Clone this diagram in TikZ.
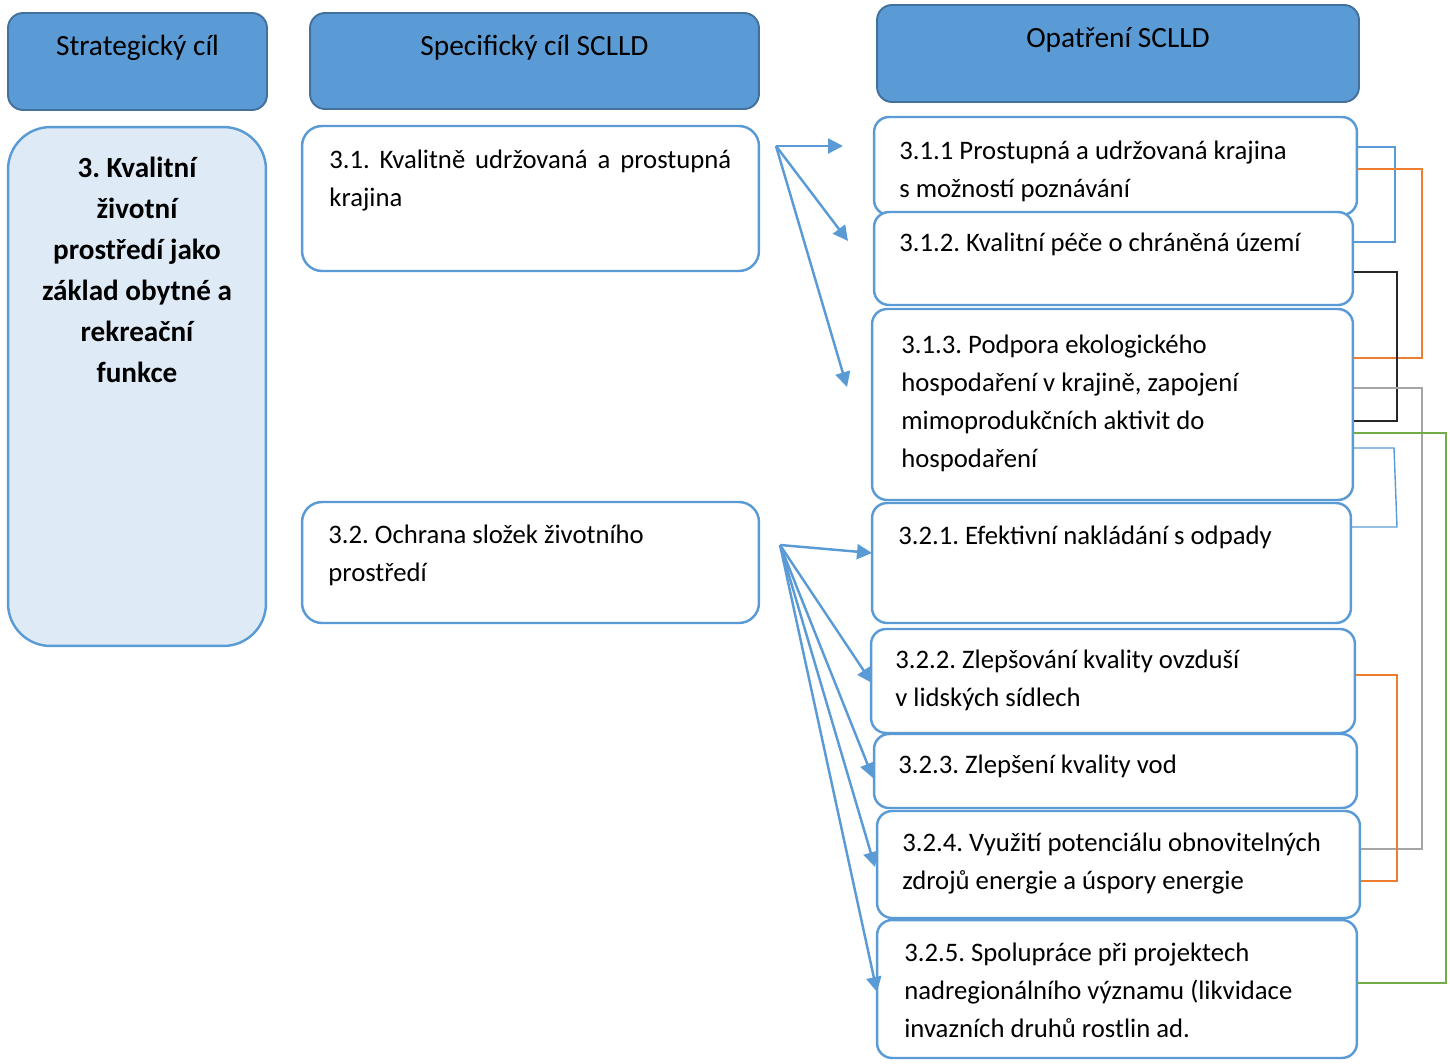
\documentclass[tikz,border=0pt]{standalone}
\usepackage{fontspec}
\setmainfont{Carlito}
\usetikzlibrary{arrows.meta}
\frenchspacing

\definecolor{boxblue}{HTML}{5B9BD5}
\definecolor{headline}{HTML}{41719C}
\definecolor{goalfill}{HTML}{DEEBF7}
\definecolor{linkorange}{HTML}{ED7D31}
\definecolor{linkgray}{HTML}{A5A5A5}
\definecolor{linkgreen}{HTML}{70AD47}
\definecolor{linkdark}{HTML}{262626}

\newcommand\bodyfont{\fontsize{15.2}{21.6}\selectfont}
\newcommand\headfont{\fontsize{16.7}{20}\selectfont}
\newcommand\goalfont{\fontsize{16.6}{23.3}\selectfont\bfseries}

\begin{document}
\frenchspacing
\begin{tikzpicture}[x=0.02cm, y=-0.02cm,
    head/.style={draw=headline, fill=boxblue, line width=1.1pt,
      rounded corners=0.3cm, inner sep=0pt},
    goal/.style={draw=boxblue, fill=goalfill, line width=1.4pt,
      rounded corners=0.85cm, inner sep=0pt},
    spec/.style={draw=boxblue, fill=white, line width=1.4pt,
      rounded corners=0.4cm, inner sep=0pt},
    meas/.style={draw=boxblue, fill=white, line width=1.4pt,
      rounded corners=0.3cm, inner sep=0pt},
    txt/.style={anchor=base west, inner sep=0pt, align=left, font=\bodyfont},
    htxt/.style={anchor=base, inner sep=0pt, font=\headfont},
    arr/.style={draw=boxblue, line width=1.4pt,
      -{Triangle[length=0.3cm, width=0.3cm]}},
    link/.style={line width=0.8pt}]
  \useasboundingbox (0,0) rectangle (1450,1064);

  % column headers
  \node[head, minimum width=5.18cm, minimum height=1.94cm] (h1) at (137.5,61.5) {};
  \node[head, minimum width=8.98cm, minimum height=1.92cm] (h2) at (534.5,61) {};
  \node[head, minimum width=9.64cm, minimum height=1.94cm] (h3) at (1118,53.5) {};
  \node[htxt] (h1t) at (137.5,56) {Strategický cíl};
  \node[htxt] (h2t) at (534.5,56) {Specifický cíl SCLLD};
  \node[htxt] (h3t) at (1118,48) {Opatření SCLLD};

  % strategic goal (base = last line)
  \node[goal, minimum width=5.16cm, minimum height=10.38cm] (g) at (137,386.5) {};
  \node[anchor=base, inner sep=0pt, align=center, font=\goalfont] (gt) at (137,382.5)
    {3. Kvalitní\\ životní\\ prostředí jako\\ základ obytné a\\ rekreační\\ funkce};

  % specific goals
  \node[spec, minimum width=9.14cm, minimum height=2.9cm] (s1) at (530.5,198.5) {};
  \node[spec, minimum width=9.14cm, minimum height=2.42cm] (s2) at (530.5,562.5) {};
  \node[txt, text width=8.04cm, align=justify] (s1t) at (329,169)
    {3.1. Kvalitně udržovaná a prostupná\linebreak krajina};
  \node[txt] (s2t) at (328,581.6) {3.2. Ochrana složek životního\\ prostředí};

  % measures
  \node[meas, minimum width=9.66cm, minimum height=1.96cm] (m1) at (1115.5,166) {};
  \node[meas, minimum width=9.58cm, minimum height=1.86cm] (m2) at (1113.5,258.5) {};
  \node[meas, minimum width=9.62cm, minimum height=3.82cm] (m3) at (1112.5,404.5) {};
  \node[meas, minimum width=9.58cm, minimum height=2.4cm] (m4) at (1111.5,563) {};
  \node[meas, minimum width=9.68cm, minimum height=2.08cm] (m5) at (1113,681) {};
  \node[meas, minimum width=9.66cm, minimum height=1.48cm] (m6) at (1115.5,771) {};
  \node[meas, minimum width=9.66cm, minimum height=2.14cm] (m7) at (1118.5,864.5) {};
  \node[meas, minimum width=9.6cm, minimum height=2.76cm] (m8) at (1117,989) {};

  \node[txt] (m1t) at (899,197.1) {3.1.1 Prostupná a udržovaná krajina\\ s možností poznávání};
  \node[txt] (m2t) at (899,252) {3.1.2. Kvalitní péče o chráněná území};
  \node[txt] (m3t) at (901,467.8) {3.1.3. Podpora ekologického\\ hospodaření v krajině, zapojení\\
    mimoprodukčních aktivit do\\ hospodaření};
  \node[txt] (m4t) at (898,544.5) {3.2.1. Efektivní nakládání s odpady};
  \node[txt] (m5t) at (895,706.6) {3.2.2. Zlepšování kvality ovzduší\\ v lidských sídlech};
  \node[txt] (m6t) at (898,773.5) {3.2.3. Zlepšení kvality vod};
  \node[txt] (m7t) at (902,889.6) {3.2.4. Využití potenciálu obnovitelných\\ zdrojů energie a úspory energie};
  \node[txt] (m8t) at (904,1037.7) {3.2.5. Spolupráce při projektech\\ nadregionálního významu (likvidace\\
    invazních druhů rostlin ad.};

  % arrows from the specific goals
  \coordinate (s1o) at (776,146);
  \coordinate (s2o) at (780,545);
  \coordinate (a11) at (843,146);
  \coordinate (a12) at (848,241);
  \coordinate (a13) at (847,387);
  \coordinate (a21) at (872,553);
  \coordinate (a22) at (872,683);
  \coordinate (a23) at (873,778);
  \coordinate (a24) at (875,867);
  \coordinate (a25) at (877,992);
  \foreach \t in {a11,a12,a13}
    \draw[arr] (s1o) -- (\t);
  \foreach \t in {a21,a22,a23,a24,a25}
    \draw[arr] (s2o) -- (\t);

  % links between measures
  \draw[link, boxblue] (m1.east |- 0,147) -| (1395,242) -- (m2.east |- 0,242);
  \draw[link, linkorange] (m1.east |- 0,169) -| (1422,358) -- (m3.east |- 0,358);
  \draw[link, linkdark] (m2.east |- 0,272) -| (1397,421) -- (m3.east |- 0,421);
  \draw[link, linkgray] (m3.east |- 0,388) -| (1422,849) -- (m7.east |- 0,849);
  \draw[link, linkgreen] (m3.east |- 0,433) -| (1446,983) -- (m8.east |- 0,983);
  \draw[link, boxblue] (m3.east |- 0,448) -- (1394,448) -- (1397,527) -- (m4.east |- 0,527);
  \draw[link, linkorange] (m5.east |- 0,675) -| (1397,881) -- (m7.east |- 0,881);
\end{tikzpicture}
\end{document}
